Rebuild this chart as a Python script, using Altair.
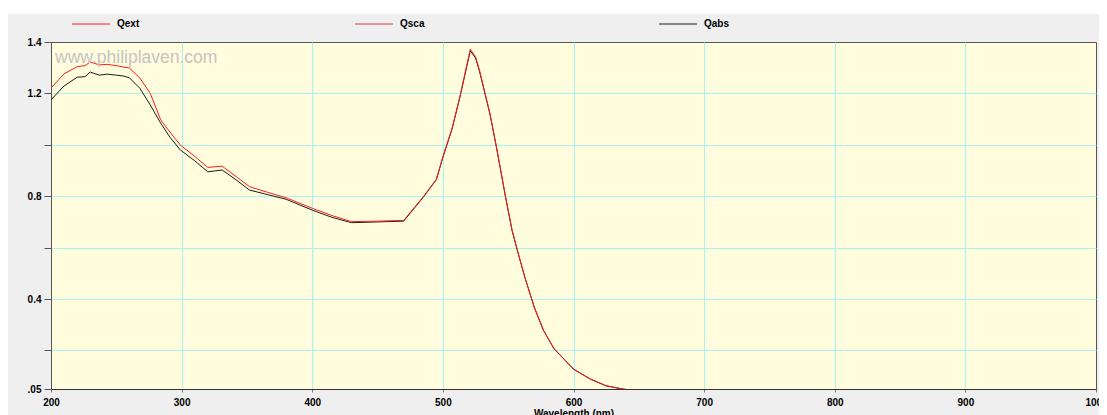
import altair as alt
import pandas as pd

# ---- data ----
WAVELENGTH = [200, 210, 220, 226, 230, 237, 243, 250, 255, 260, 268, 276, 284, 291, 299,
              310, 320, 331, 340, 352, 366, 380, 400, 415, 430, 450, 470, 485, 495, 500,
              507, 513, 521, 525, 528, 532, 536, 541, 548, 553, 557, 563, 570, 577, 585,
              600, 613, 625, 636, 645]
QEXT = [1.221, 1.276, 1.304, 1.308, 1.322, 1.311, 1.313, 1.308, 1.303, 1.299, 1.260, 1.200,
        1.097, 1.050, 0.999, 0.955, 0.912, 0.917, 0.883, 0.837, 0.815, 0.794, 0.753, 0.725,
        0.701, 0.703, 0.706, 0.798, 0.866, 0.954, 1.064, 1.187, 1.372, 1.343, 1.291, 1.207,
        1.123, 0.993, 0.798, 0.668, 0.591, 0.481, 0.368, 0.279, 0.208, 0.128, 0.089, 0.063,
        0.052, 0.045]
QABS = [1.175, 1.229, 1.263, 1.265, 1.283, 1.271, 1.275, 1.271, 1.268, 1.261, 1.220, 1.155,
        1.084, 1.030, 0.980, 0.938, 0.895, 0.902, 0.870, 0.824, 0.806, 0.788, 0.746, 0.718,
        0.697, 0.700, 0.703, 0.796, 0.864, 0.951, 1.061, 1.184, 1.366, 1.338, 1.287, 1.203,
        1.120, 0.990, 0.796, 0.666, 0.589, 0.480, 0.367, 0.278, 0.207, 0.127, 0.088, 0.062,
        0.051, 0.044]

SERIES = ["Qext", "Qsca", "Qabs"]
SERIES_COLORS = ["#ff1a1a", "#d43a3a", "#1a1a1a"]

X_TICKS = [200, 300, 400, 500, 600, 700, 800, 900, 1000]
Y_TICKS = [0.05, 0.2, 0.4, 0.6, 0.8, 1.0, 1.2, 1.4]
Y_TICK_LABELS = [".05", "", "0.4", "", "0.8", "", "1.2", "1.4"]

X_TITLE = "Wavelength (nm)"
WATERMARK = "www.philiplaven.com"

# ---- layout ----
W, H = 1045, 347
PAD = {"left": 43, "top": 34, "right": 3, "bottom": 26}
LEGEND_X = [21, 304, 608]
FONT = "Liberation Sans"

df = pd.concat([
    pd.DataFrame({"wavelength": WAVELENGTH, "value": QABS, "series": "Qabs"}),
    pd.DataFrame({"wavelength": WAVELENGTH, "value": QEXT, "series": "Qext"}),
], ignore_index=True)

y_label_expr = "{}[indexof({}, datum.value)]".format(
    "[" + ",".join("'%s'" % s for s in Y_TICK_LABELS) + "]",
    "[" + ",".join(str(v) for v in Y_TICKS) + "]",
)

GRID = "#a4f6f2"

x_axis = alt.Axis(
    values=X_TICKS, format="d", title=X_TITLE, labelFlush=False, labelOverlap=False,
    labelFont=FONT, labelFontSize=10, labelFontWeight="bold", labelColor="#000",
    labelPadding=5, tickSize=3, tickColor="#777", domainColor="#333",
    gridColor=GRID,
    gridOpacity={"condition": {"test": "datum.value <= 200 || datum.value >= 1000", "value": 0}, "value": 1},
    titleFont=FONT, titleFontSize=10, titleFontWeight="bold", titleColor="#000",
    titleBaseline="top", titleY=19,
)
y_axis = alt.Axis(
    values=Y_TICKS, labelExpr=y_label_expr, title=None, labelOverlap=False,
    labelFont=FONT, labelFontSize=10, labelFontWeight="bold", labelColor="#000",
    labelPadding=3, tickSize=7, tickColor="#555", domainColor="#555",
    gridColor=GRID,
    gridOpacity={"condition": {"test": "datum.value <= 0.05 || datum.value >= 1.4", "value": 0}, "value": 1},
)

color = alt.Color("series:N", scale=alt.Scale(domain=SERIES, range=SERIES_COLORS), legend=None)
base = alt.Chart(df).mark_line(clip=True, strokeWidth=1).encode(
    x=alt.X("wavelength:Q", scale=alt.Scale(domain=[200, 1000], nice=False, zero=False), axis=x_axis),
    y=alt.Y("value:Q", scale=alt.Scale(domain=[0.05, 1.4], nice=False, zero=False), axis=y_axis),
    color=color,
)
abs_line = base.transform_filter(alt.datum.series == "Qabs")
ext_line = base.transform_filter(alt.datum.series == "Qext")

one = alt.Data(values=[{}])
layers = [abs_line, ext_line]

# white strip above the grey panel
layers.append(alt.Chart(one).mark_rect(color="white").encode(
    x=alt.value(-PAD["left"]), x2=alt.value(W + PAD["right"]),
    y=alt.value(-PAD["top"]), y2=alt.value(-PAD["top"] + 6)))

# legend across the top
for name, col, lx in zip(SERIES, SERIES_COLORS, LEGEND_X):
    layers.append(alt.Chart(one).mark_rule(color=col, strokeWidth=1).encode(
        x=alt.value(lx), x2=alt.value(lx + 38), y=alt.value(-18)))
    layers.append(alt.Chart(one).mark_text(
        text=name, align="left", baseline="middle", font=FONT, fontSize=10,
        fontWeight="bold", color="#000").encode(x=alt.value(lx + 45), y=alt.value(-18)))

# watermark
layers.append(alt.Chart(one).mark_text(
    text=WATERMARK, align="left", baseline="alphabetic", font=FONT, fontSize=17.5,
    color="#c4c4c4").encode(x=alt.value(4), y=alt.value(20.5)))

chart = alt.layer(*layers).properties(
    width=W, height=H,
    autosize=alt.AutoSizeParams(type="none"),
    padding=PAD,
    background="#efefef",
).configure_view(fill="#fffddd", stroke="#555", strokeWidth=1)

chart.save("out.html", embed_options={"renderer": "svg", "actions": False})
